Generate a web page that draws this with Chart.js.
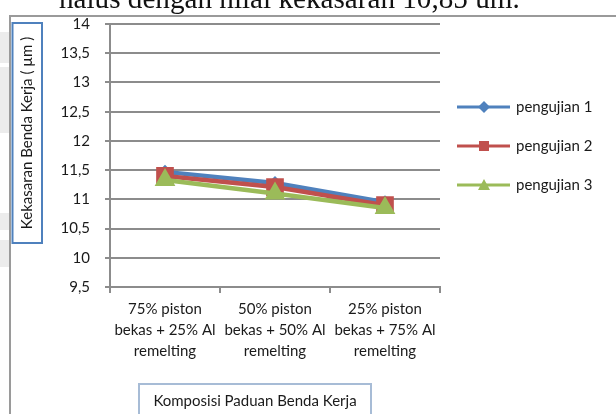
<!DOCTYPE html>
<html>
<head>
<meta charset="utf-8">
<script src="https://cdn.jsdelivr.net/npm/chart.js@4.4.1/dist/chart.umd.min.js"></script>
<style>
  html, body { margin: 0; padding: 0; background: #fff; }
  canvas { display: block; }
</style>
</head>
<body>
<canvas id="chart" width="616" height="414"></canvas>
<script>
// data
const categories = [
    ['75% piston', 'bekas + 25% Al', 'remelting'],
    ['50% piston', 'bekas + 50% Al', 'remelting'],
    ['25% piston', 'bekas + 75% Al', 'remelting']
];
const pengujian1 = [11.47, 11.28, 10.95];
const pengujian2 = [11.40, 11.21, 10.90];
const pengujian3 = [11.33, 11.10, 10.85];
const seriesNames = ['pengujian 1', 'pengujian 2', 'pengujian 3'];
const yTickLabels = ['9,5', '10', '10,5', '11', '11,5', '12', '12,5', '13', '13,5', '14'];

const yTitle = 'Kekasaran Benda Kerja ( µm )';
const xTitle = 'Komposisi Paduan Benda Kerja';
const pageText = 'halus dengan nilai kekasaran 10,85 um.';

const FONT = 'Lato';
const GRID = '#8c8c8c';
const colors = ['#4F81BD', '#C0504D', '#9BBB59'];

// page background, frame and boxed titles around the plot
const decorations = {
    id: 'decorations',
    beforeDraw(chart) {
        const ctx = chart.ctx;
        ctx.save();
        ctx.fillStyle = '#fff';
        ctx.fillRect(0, 0, chart.width, chart.height);

        // faint scan marks at the left edge
        ctx.fillStyle = '#ececec';
        ctx.fillRect(0, 32, 9, 31);
        ctx.fillRect(0, 67, 9, 66);
        ctx.fillRect(0, 213, 9, 17);
        ctx.fillRect(0, 240, 9, 27);

        // clipped line of text from the page above the chart
        ctx.font = '100px "Liberation Serif"';
        const w = ctx.measureText(pageText).width;
        const size = 100 * 461 / w;
        ctx.font = size + 'px "Liberation Serif"';
        ctx.fillStyle = '#111';
        ctx.textBaseline = 'alphabetic';
        ctx.fillText(pageText, 59, 8);

        // chart frame
        ctx.fillStyle = '#fff';
        ctx.fillRect(10, 16, chart.width - 10, chart.height - 16);
        ctx.strokeStyle = '#9a9a9a';
        ctx.lineWidth = 2;
        ctx.beginPath();
        ctx.moveTo(10, chart.height);
        ctx.lineTo(10, 16);
        ctx.lineTo(chart.width, 16);
        ctx.stroke();
        ctx.restore();
    },
    afterDraw(chart) {
        const ctx = chart.ctx;
        ctx.save();

        // y axis title in a blue box
        ctx.strokeStyle = '#4F81BD';
        ctx.lineWidth = 2;
        ctx.strokeRect(12.5, 23, 29.5, 220);
        ctx.translate(27, 133);
        ctx.rotate(-Math.PI / 2);
        ctx.font = '15px ' + FONT;
        ctx.fillStyle = '#1a1a1a';
        ctx.textAlign = 'center';
        ctx.textBaseline = 'middle';
        ctx.fillText(yTitle, 0, 0);
        ctx.setTransform(1, 0, 0, 1, 0, 0);

        // x axis title box
        ctx.fillStyle = '#fff';
        ctx.fillRect(139, 384, 232, 40);
        ctx.strokeStyle = '#a7bcd6';
        ctx.lineWidth = 2;
        ctx.strokeRect(139, 384, 232, 40);
        ctx.fillStyle = '#1a1a1a';
        ctx.textAlign = 'center';
        ctx.textBaseline = 'middle';
        ctx.font = '15px ' + FONT;
        ctx.fillText(xTitle, 255, 401);

        // legend
        const rows = [107, 146, 185];
        chart.data.datasets.forEach((ds, i) => {
            const y = rows[i];
            ctx.strokeStyle = ds.borderColor;
            ctx.lineWidth = 3;
            ctx.beginPath();
            ctx.moveTo(457, y);
            ctx.lineTo(510, y);
            ctx.stroke();
            ctx.fillStyle = ds.borderColor;
            ctx.beginPath();
            if (i === 0) {
                ctx.moveTo(484, y - 6); ctx.lineTo(490, y); ctx.lineTo(484, y + 6); ctx.lineTo(478, y);
            } else if (i === 1) {
                ctx.rect(479, y - 5, 10, 10);
            } else {
                ctx.moveTo(484, y - 6); ctx.lineTo(490, y + 5); ctx.lineTo(478, y + 5);
            }
            ctx.closePath();
            ctx.fill();
            ctx.fillStyle = '#1a1a1a';
            ctx.textAlign = 'left';
            ctx.textBaseline = 'middle';
            ctx.font = '15px ' + FONT;
            ctx.fillText(ds.label, 516, y);
        });
        ctx.restore();
    }
};

const ctx = document.getElementById('chart').getContext('2d');
new Chart(ctx, {
    type: 'line',
    data: {
        labels: categories,
        datasets: [
            {
                label: seriesNames[0], data: pengujian1, order: 3,
                borderColor: colors[0], backgroundColor: colors[0],
                borderWidth: 4.5, pointStyle: 'rectRot', pointRadius: 7,
                pointBorderWidth: 0, tension: 0, fill: false
            },
            {
                label: seriesNames[1], data: pengujian2, order: 2,
                borderColor: colors[1], backgroundColor: colors[1],
                borderWidth: 4.5, pointStyle: 'rect', pointRadius: 12.5,
                pointBorderWidth: 0, tension: 0, fill: false
            },
            {
                label: seriesNames[2], data: pengujian3, order: 1,
                borderColor: colors[2], backgroundColor: colors[2],
                borderWidth: 4.5, pointStyle: 'triangle', pointRadius: 12,
                pointBorderWidth: 0, tension: 0, fill: false
            }
        ]
    },
    options: {
        responsive: false,
        animation: false,
        devicePixelRatio: 1,
        layout: { padding: { left: 0, top: 20, right: 176, bottom: 0 } },
        plugins: {
            legend: { display: false },
            tooltip: { enabled: false }
        },
        scales: {
            x: {
                offset: true,
                grid: { offset: true, drawOnChartArea: false, color: GRID, lineWidth: 2, tickLength: 6 },
                border: { color: GRID, width: 2 },
                ticks: {
                    autoSkip: false, maxRotation: 0, padding: 6,
                    color: '#1a1a1a', font: { family: FONT, size: 15, lineHeight: 1.4 }
                },
                afterFit: (scale) => { scale.height = 127; }
            },
            y: {
                min: 9.5,
                max: 14,
                grid: { color: GRID, lineWidth: 2, tickLength: 5 },
                border: { color: GRID, width: 2 },
                ticks: {
                    stepSize: 0.5, padding: 15,
                    color: '#1a1a1a', font: { family: FONT, size: 15 },
                    callback: (v, i) => yTickLabels[i]
                },
                afterFit: (scale) => { scale.width = 110; }
            }
        }
    },
    plugins: [decorations]
});
</script>
</body>
</html>
